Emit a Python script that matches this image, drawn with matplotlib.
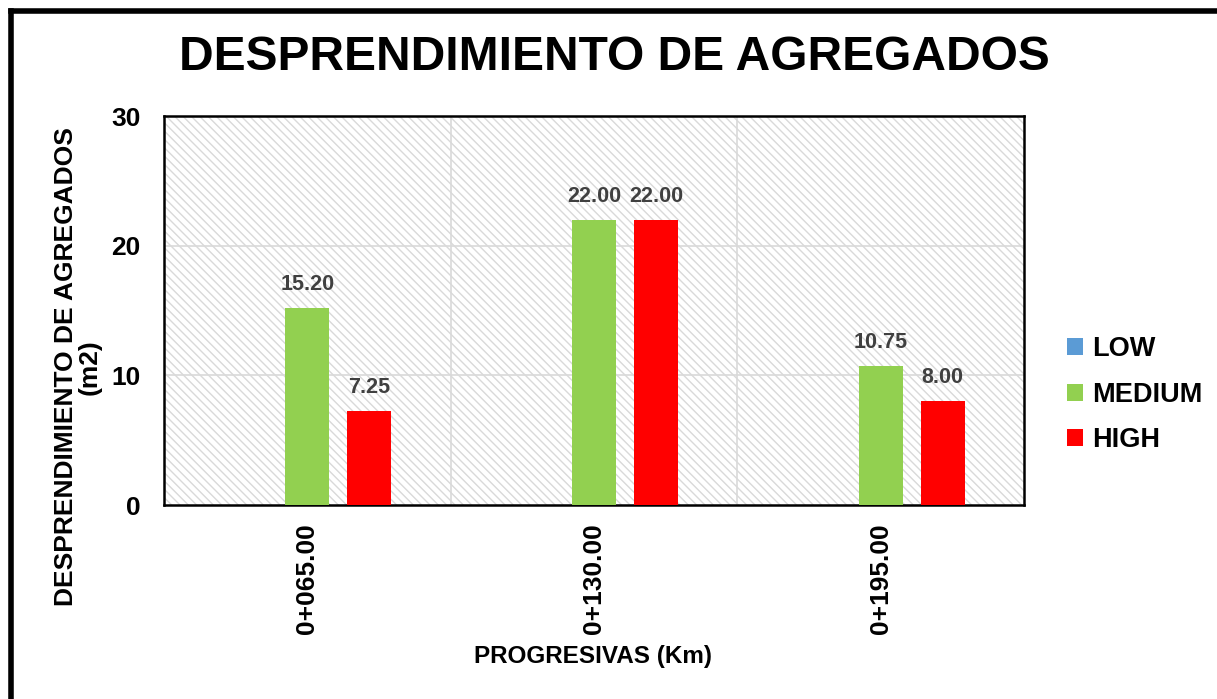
import numpy as np
import matplotlib.pyplot as plt
from matplotlib.lines import Line2D
from matplotlib.patches import Rectangle

plt.rcParams['font.family'] = ['Liberation Sans', 'DejaVu Sans']
plt.rcParams['hatch.color'] = '#d9d9d9'
plt.rcParams['hatch.linewidth'] = 1.0

progresivas = ['0+065.00', '0+130.00', '0+195.00']
series = ['LOW', 'MEDIUM', 'HIGH']
low = [0, 0, 0]
medium = [15.20, 22.00, 10.75]
high = [7.25, 22.00, 8.00]
colors = ['#5b9bd5', '#92d050', '#ff0000']

fig = plt.figure(figsize=(12.17, 6.99), dpi=100)
ax = fig.add_axes([0.1348, 0.2775, 0.7066, 0.5565])

# hatched background
ax.add_patch(Rectangle((0, 0), 1, 1, transform=ax.transAxes, facecolor='white',
                       hatch='\\\\\\\\', edgecolor='#d9d9d9', linewidth=0, zorder=0))

x = np.arange(len(progresivas))
w = 0.153
off = 0.216
for i, (vals, c, name) in enumerate(zip([low, medium, high], colors, series)):
    bars = ax.bar(x + (i - 1) * off, vals, w, color=c, label=name, zorder=3)
    for b, v in zip(bars, vals):
        if v > 0:
            ax.text(b.get_x() + b.get_width() / 2, v + 1.0, f'{v:.2f}', ha='center', va='bottom',
                    fontsize=15.5, fontweight='bold', color='#404040', zorder=4)

ax.set_xlim(-0.5, 2.5)
ax.set_ylim(0, 30)
ax.set_yticks([0, 10, 20, 30])
ax.set_xticks(x)
ax.set_xticklabels(progresivas, rotation=90, fontsize=19, fontweight='bold')
for lbl in ax.get_yticklabels():
    lbl.set_fontsize(19)
    lbl.set_fontweight('bold')
ax.tick_params(axis='y', length=0, pad=17)
ax.tick_params(axis='x', length=0, pad=13)

for y in [10, 20]:
    ax.axhline(y, color='#d9d9d9', lw=1.2, zorder=1)
for xv in [0.5, 1.5]:
    ax.axvline(xv, color='#d9d9d9', lw=1.2, zorder=1)

for s in ax.spines.values():
    s.set_linewidth(1.8)
    s.set_color('black')

fig.text(593 / 1217, 1 - 657 / 699, 'PROGRESIVAS (Km)', ha='center', va='center',
         fontsize=17.5, fontweight='bold')

fig.text(78 / 1217, 1 - 367 / 699, 'DESPRENDIMIENTO DE AGREGADOS\n(m2)', rotation=90,
         ha='center', va='center', fontsize=19, fontweight='bold', linespacing=1.0,
         multialignment='center')

fig.text(614 / 1217, 1 - 57 / 699, 'DESPRENDIMIENTO DE AGREGADOS', ha='center', va='center',
         fontsize=34.5, fontweight='bold')

leg = ax.legend(loc='center left', bbox_to_anchor=(1.037, 0.283), frameon=False,
                prop={'size': 19.5, 'weight': 'bold'}, handlelength=0.6, handleheight=0.6,
                handletextpad=0.35, labelspacing=0.72, borderaxespad=0)

# outer border (cropped on right and bottom)
fig.add_artist(Line2D([10.5 / 1217, 10.5 / 1217], [0, 1 - 10.5 / 699], color='black', lw=4,
                      transform=fig.transFigure, solid_capstyle='projecting'))
fig.add_artist(Line2D([10.5 / 1217, 1], [1 - 10.5 / 699, 1 - 10.5 / 699], color='black', lw=4,
                      transform=fig.transFigure, solid_capstyle='projecting'))

fig.savefig('out.png', dpi=100)
